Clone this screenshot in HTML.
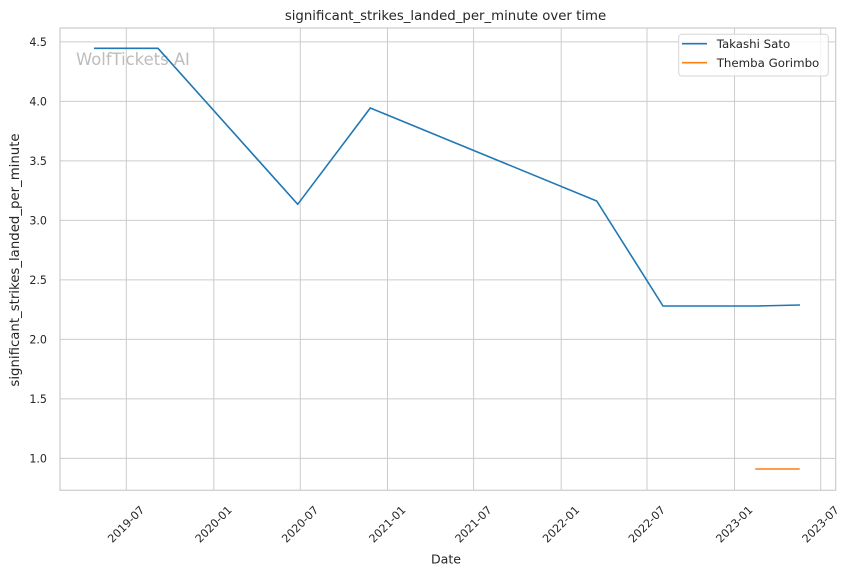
<!DOCTYPE html>
<html>
<head>
<meta charset="utf-8">
<style>
  html, body { margin: 0; padding: 0; background: #ffffff; }
  svg { display: block; }
  text { font-family: "DejaVu Sans", "Liberation Sans", sans-serif; fill: #262626; }
</style>
</head>
<body>
<svg width="852" height="575" viewBox="0 0 852 575" xmlns="http://www.w3.org/2000/svg">
  <rect x="0" y="0" width="852" height="575" fill="#ffffff"/>

  <!-- grid: vertical -->
  <g stroke="#cccccc" stroke-width="1">
    <line x1="126.3" y1="28" x2="126.3" y2="490.3"/>
    <line x1="213.8" y1="28" x2="213.8" y2="490.3"/>
    <line x1="300.3" y1="28" x2="300.3" y2="490.3"/>
    <line x1="387.5" y1="28" x2="387.5" y2="490.3"/>
    <line x1="473.6" y1="28" x2="473.6" y2="490.3"/>
    <line x1="561.2" y1="28" x2="561.2" y2="490.3"/>
    <line x1="647.0" y1="28" x2="647.0" y2="490.3"/>
    <line x1="734.5" y1="28" x2="734.5" y2="490.3"/>
    <line x1="820.7" y1="28" x2="820.7" y2="490.3"/>
  </g>
  <!-- grid: horizontal -->
  <g stroke="#cccccc" stroke-width="1">
    <line x1="60" y1="41.9" x2="835.7" y2="41.9"/>
    <line x1="60" y1="101.4" x2="835.7" y2="101.4"/>
    <line x1="60" y1="160.9" x2="835.7" y2="160.9"/>
    <line x1="60" y1="220.4" x2="835.7" y2="220.4"/>
    <line x1="60" y1="279.9" x2="835.7" y2="279.9"/>
    <line x1="60" y1="339.4" x2="835.7" y2="339.4"/>
    <line x1="60" y1="398.9" x2="835.7" y2="398.9"/>
    <line x1="60" y1="458.4" x2="835.7" y2="458.4"/>
  </g>

  <!-- axes frame -->
  <rect x="60" y="28" width="775.7" height="462.3" fill="none" stroke="#cccccc" stroke-width="1.2"/>

  <!-- watermark -->
  <text x="76" y="65" font-size="16.4" style="fill:#bdbdbd">WolfTickets AI</text>

  <!-- series -->
  <polyline fill="none" stroke="#1f77b4" stroke-width="1.6" stroke-linejoin="miter"
    points="94,48.3 158,48.3 297.7,204.3 370.3,108 596.7,201 663,306 757,306 800,305"/>
  <polyline fill="none" stroke="#ff7f0e" stroke-width="1.6"
    points="755.3,469 799.7,469"/>

  <!-- y tick labels -->
  <g font-size="11.1" text-anchor="end">
    <text x="47" y="45.9">4.5</text>
    <text x="47" y="105.4">4.0</text>
    <text x="47" y="164.9">3.5</text>
    <text x="47" y="224.4">3.0</text>
    <text x="47" y="283.9">2.5</text>
    <text x="47" y="343.4">2.0</text>
    <text x="47" y="402.9">1.5</text>
    <text x="47" y="462.4">1.0</text>
  </g>

  <!-- x tick labels -->
  <g font-size="11.1" text-anchor="middle" dominant-baseline="central">
    <text transform="translate(126.3,524.5) rotate(-45)">2019-07</text>
    <text transform="translate(213.8,524.5) rotate(-45)">2020-01</text>
    <text transform="translate(300.3,524.5) rotate(-45)">2020-07</text>
    <text transform="translate(387.5,524.5) rotate(-45)">2021-01</text>
    <text transform="translate(473.6,524.5) rotate(-45)">2021-07</text>
    <text transform="translate(561.2,524.5) rotate(-45)">2022-01</text>
    <text transform="translate(647.0,524.5) rotate(-45)">2022-07</text>
    <text transform="translate(734.5,524.5) rotate(-45)">2023-01</text>
    <text transform="translate(820.7,524.5) rotate(-45)">2023-07</text>
  </g>

  <!-- axis labels -->
  <text x="446" y="563.5" font-size="12.6" text-anchor="middle">Date</text>
  <text transform="translate(19,260) rotate(-90)" font-size="13.3" text-anchor="middle">significant_strikes_landed_per_minute</text>

  <!-- title -->
  <text x="445.5" y="20" font-size="13.3" text-anchor="middle">significant_strikes_landed_per_minute over time</text>

  <!-- legend -->
  <rect x="678.7" y="34.3" width="149.6" height="41.7" rx="3" ry="3" fill="#ffffff" fill-opacity="0.8" stroke="#d6d6d6" stroke-width="1"/>
  <line x1="682" y1="43.7" x2="707" y2="43.7" stroke="#1f77b4" stroke-width="1.6"/>
  <line x1="682" y1="62.7" x2="707" y2="62.7" stroke="#ff7f0e" stroke-width="1.6"/>
  <text x="716.7" y="47.9" font-size="11.8">Takashi Sato</text>
  <text x="716.7" y="66.9" font-size="11.8">Themba Gorimbo</text>
</svg>
</body>
</html>
